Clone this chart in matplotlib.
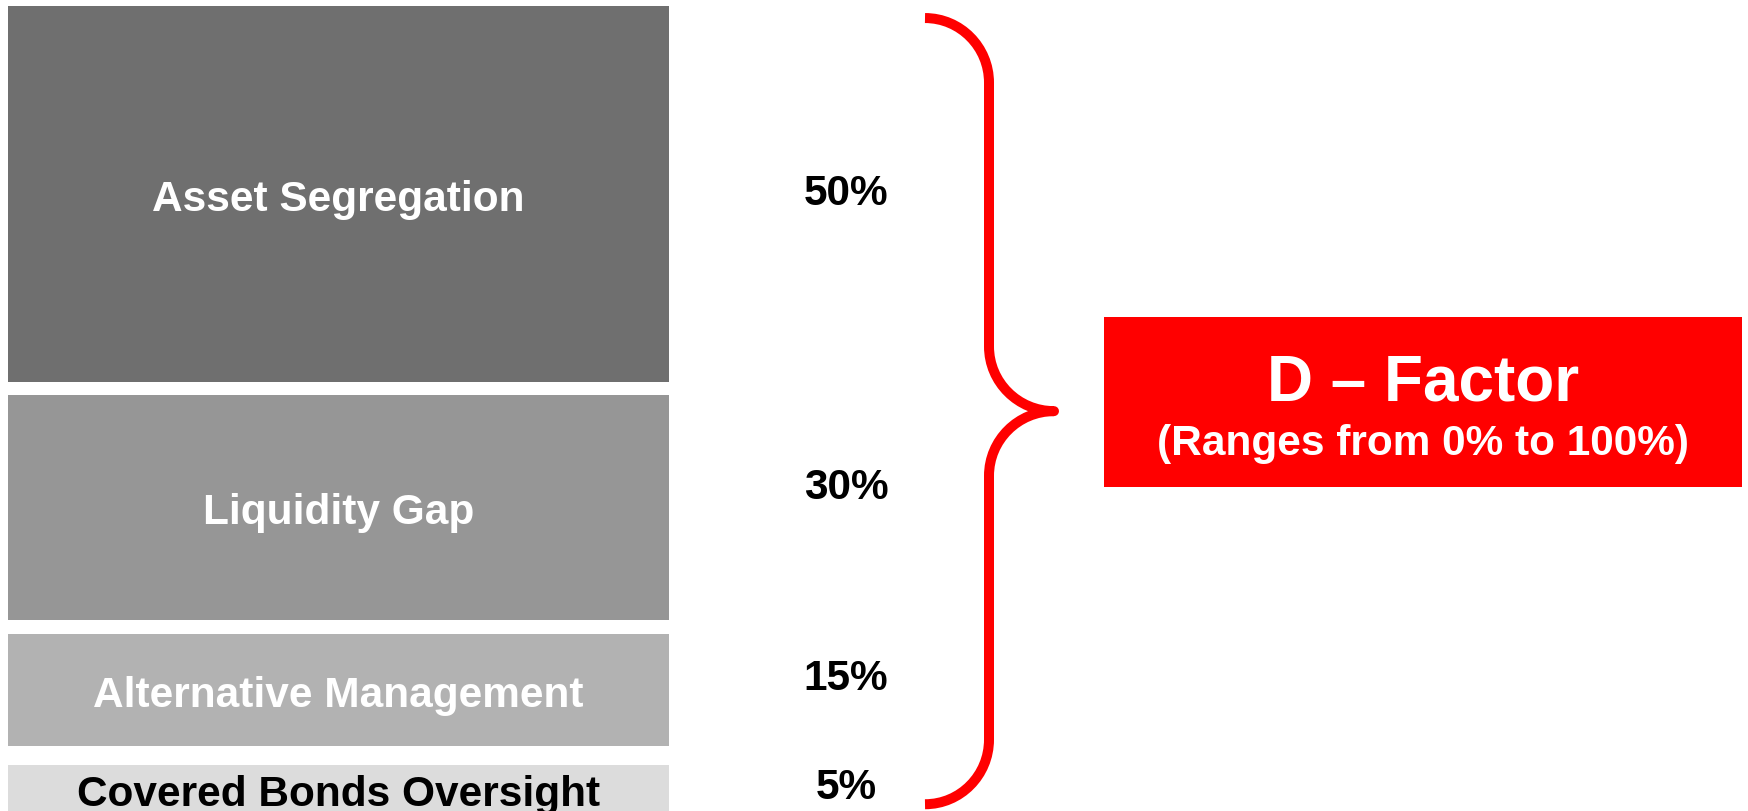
import numpy as np
import matplotlib
matplotlib.use("Agg")
import matplotlib.pyplot as plt
from matplotlib.patches import Rectangle, PathPatch
from matplotlib.path import Path

plt.rcParams["font.family"] = ["Liberation Sans", "DejaVu Sans"]

# data
components = ["Asset Segregation", "Liquidity Gap", "Alternative Management", "Covered Bonds Oversight"]
weights = [50, 30, 15, 5]
pct_labels = [f"{w}%" for w in weights]
box_colors = ["#6f6f6f", "#969696", "#b2b2b2", "#dcdcdc"]
text_colors = ["white", "white", "white", "black"]
factor_title = "D \u2013 Factor"
factor_sub = "(Ranges from 0% to 100%)"

RED = "#ff0000"
W, H = 1748, 811
Y_MAX = 107.85              # y in "weight units" (1 unit = 1%)
MIN_H = 6.5                 # smallest box still fits its label
gaps = [0.75, 1.75, 1.75, 2.5]
pct_nudge = [1.45, -1.2, -0.05, 1.2]   # baseline offset of % labels from box centre
LBL_OFF = 2.25                         # baseline offset of box labels

fig = plt.figure(figsize=(W / 100, H / 100), dpi=100)
ax = fig.add_axes([0, 0, 1, 1])
ax.set_xlim(0, W); ax.set_ylim(Y_MAX, 0); ax.axis("off")

heights = [max(w, MIN_H) for w in weights]
bottoms, y = [], 0.0
for g, h in zip(gaps, heights):
    y += g; bottoms.append(y); y += h

ax.bar(338.5, heights, bottom=bottoms, width=661, color=box_colors, align="center")
for name, b, h, tc, lab, nd in zip(components, bottoms, heights, text_colors, pct_labels, pct_nudge):
    c = b + h / 2
    ax.text(338.5, c + LBL_OFF, name, ha="center", va="baseline", color=tc,
            fontsize=30.5, fontweight="bold")
    ax.text(846, c + nd, lab, ha="center", va="baseline", color="black",
            fontsize=30.5, fontweight="bold")

# curly brace spanning all components
top, bot = bottoms[0] + 1.65, Y_MAX - 0.9
mid = (top + bot) / 2
x0, x1, x2 = 925, 989, 1054
ry, k = 8.6, 0.5523
verts = [(x0, top), (x0 + k * (x1 - x0), top), (x1, top + ry - k * ry), (x1, top + ry),
         (x1, mid - ry),
         (x1, mid - ry + k * ry), (x2 - k * (x2 - x1), mid), (x2, mid),
         (x2 - k * (x2 - x1), mid), (x1, mid + ry - k * ry), (x1, mid + ry),
         (x1, bot - ry),
         (x1, bot - ry + k * ry), (x0 + k * (x1 - x0), bot), (x0, bot)]
codes = [Path.MOVETO] + [Path.CURVE4] * 3 + [Path.LINETO] + [Path.CURVE4] * 6 + [Path.LINETO] + [Path.CURVE4] * 3
ax.add_patch(PathPatch(Path(verts, codes), fill=False, edgecolor=RED, lw=7.2,
                       capstyle="butt", joinstyle="round"))

# D-Factor box
ax.add_patch(Rectangle((1104, 42.15), 638, 22.6, facecolor=RED, edgecolor="none"))
ax.text(1423, 53.3, factor_title, ha="center", va="baseline", color="white",
        fontsize=46, fontweight="bold")
ax.text(1423, 60.5, factor_sub, ha="center", va="baseline", color="white",
        fontsize=30.5, fontweight="bold")

fig.savefig("out.png", dpi=100, facecolor="white")
